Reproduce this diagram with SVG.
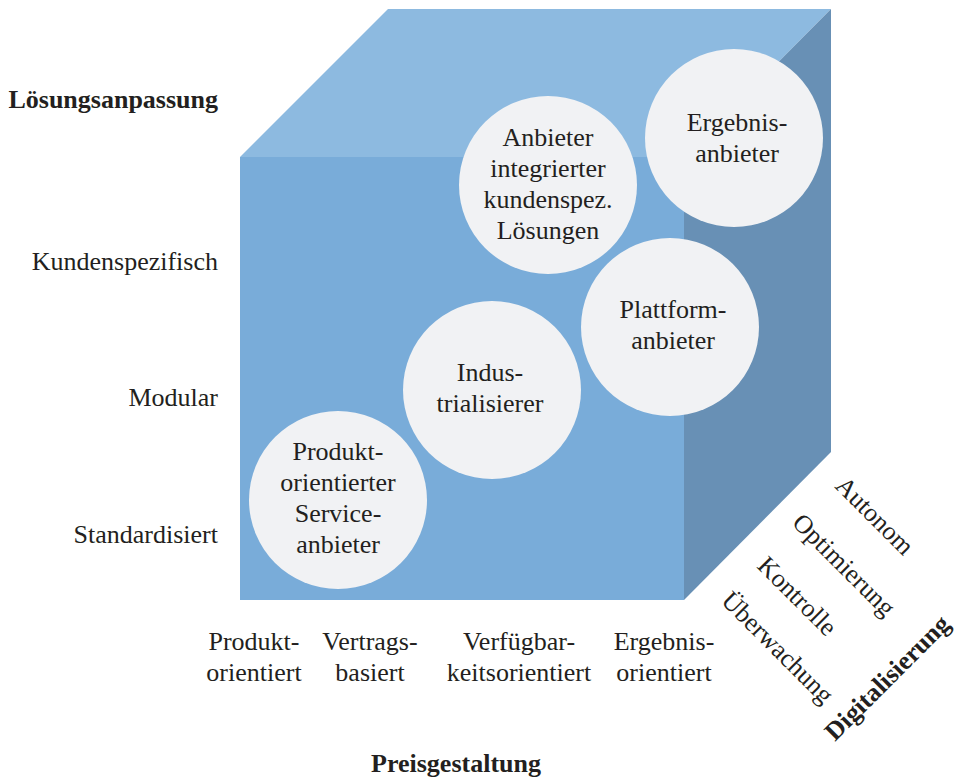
<svg xmlns="http://www.w3.org/2000/svg" width="957" height="777" viewBox="0 0 957 777">
<style>
text{font-family:"Liberation Serif","Times New Roman",serif;font-size:26px;fill:#231f20}
.b{font-weight:bold}
.c{text-anchor:middle}
.r{text-anchor:end}
.node circle{fill:#f1f2f4}
</style>
<rect width="957" height="777" fill="#ffffff"/>
<g id="cube">
<polygon points="240,157 388,9 831,9 684,157" fill="#8dbae0"/>
<polygon points="684,157 831,9 831,452 684,600" fill="#6890b5"/>
<rect x="240" y="157" width="444" height="443" fill="#79acd9"/>
</g>
<g id="connectors"></g>
<g id="n-produkt" class="node">
<circle cx="338" cy="500" r="89"/>
<text class="c" x="338" y="460">Produkt-</text>
<text class="c" x="338" y="491">orientierter</text>
<text class="c" x="338" y="522">Service-</text>
<text class="c" x="338" y="553">anbieter</text>
</g>
<g id="n-industrialisierer" class="node">
<circle cx="492" cy="390" r="89"/>
<text class="c" x="490" y="381">Indus-</text>
<text class="c" x="490" y="412">trialisierer</text>
</g>
<g id="n-plattform" class="node">
<circle cx="670" cy="327" r="89"/>
<text class="c" x="673" y="318">Plattform-</text>
<text class="c" x="673" y="349">anbieter</text>
</g>
<g id="n-anbieter" class="node">
<circle cx="548" cy="185" r="89"/>
<text class="c" x="548" y="146">Anbieter</text>
<text class="c" x="548" y="177">integrierter</text>
<text class="c" x="548" y="208">kundenspez.</text>
<text class="c" x="548" y="239">Lösungen</text>
</g>
<g id="n-ergebnis" class="node">
<circle cx="734" cy="138" r="89"/>
<text class="c" x="737" y="131">Ergebnis-</text>
<text class="c" x="737" y="162">anbieter</text>
</g>
<g id="axis-loesung">
<text class="r b" x="218" y="108">Lösungsanpassung</text>
<text class="r" x="218" y="270">Kundenspezifisch</text>
<text class="r" x="218" y="406">Modular</text>
<text class="r" x="218" y="543">Standardisiert</text>
</g>
<g id="axis-preis">
<text class="c" x="254" y="650">Produkt-</text>
<text class="c" x="254" y="681">orientiert</text>
<text class="c" x="370" y="650">Vertrags-</text>
<text class="c" x="370" y="681">basiert</text>
<text class="c" x="519" y="650">Verfügbar-</text>
<text class="c" x="519" y="681">keitsorientiert</text>
<text class="c" x="664" y="650">Ergebnis-</text>
<text class="c" x="664" y="681">orientiert</text>
<text class="c b" x="456" y="772">Preisgestaltung</text>
</g>
<g id="axis-digital">
<text transform="translate(834,487) rotate(45)">Autonom</text>
<text transform="translate(791,524) rotate(45)">Optimierung</text>
<text transform="translate(756,567) rotate(45)">Kontrolle</text>
<text transform="translate(720,602) rotate(45)">Überwachung</text>
<text class="b" transform="translate(835,742) rotate(-45)">Digitalisierung</text>
</g>
</svg>
